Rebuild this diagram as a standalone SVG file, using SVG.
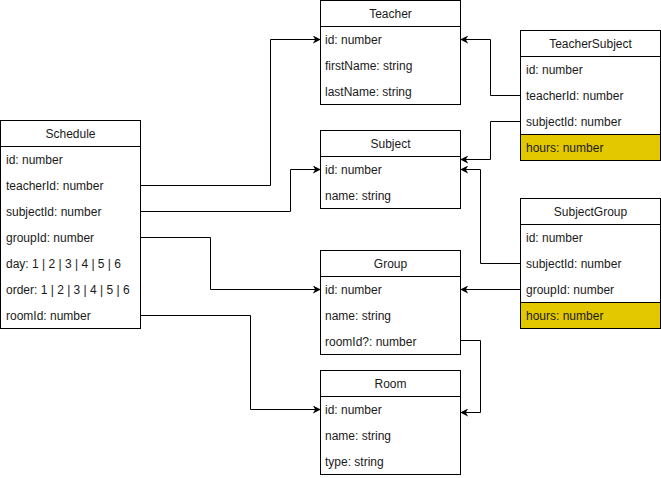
<svg xmlns="http://www.w3.org/2000/svg" width="661" height="478" viewBox="0 0 661 478">
  <style>
    .box { fill: #ffffff; stroke: #000000; stroke-width: 1; }
    .hl { fill: #e3c800; stroke: #000000; stroke-width: 1; }
    .sep { stroke: #000000; stroke-width: 1; }
    .title { font-family: "Liberation Sans", Arial, sans-serif; font-size: 12px; fill: #1a1a1a; text-anchor: middle; }
    .field { font-family: "Liberation Sans", Arial, sans-serif; font-size: 12px; fill: #1a1a1a; }
    .edge { fill: none; stroke: #000000; stroke-width: 1; marker-end: url(#arrow); }
  </style>
  <defs>
    <marker id="arrow" viewBox="0 0 10 10" refX="9" refY="5" markerWidth="8" markerHeight="8" markerUnits="userSpaceOnUse" orient="auto">
      <path d="M0,0 L10,5 L0,10 L3,5 Z" fill="#000000"/>
    </marker>
  </defs>

  <rect x="0" y="0" width="661" height="478" fill="#ffffff"/>

  <!-- connectors -->
  <g id="connectors">
    <path class="edge" d="M140.5,185.5 H270.5 V39.5 H320"/>
    <path class="edge" d="M140.5,211.5 H290.5 V169.5 H320"/>
    <path class="edge" d="M140.5,237.5 H210.5 V289.5 H320"/>
    <path class="edge" d="M140.5,315.5 H250.5 V409.5 H320"/>
    <path class="edge" d="M520.5,95.5 H490.5 V39.5 H461"/>
    <path class="edge" d="M520.5,121.5 H490.5 V159.5 H461"/>
    <path class="edge" d="M520.5,263.5 H480.5 V169.5 H461"/>
    <path class="edge" d="M520.5,289.5 H461"/>
    <path class="edge" d="M458,340.5 H480.5 V412.5 H461"/>
  </g>

  <!-- Schedule -->
  <g id="schedule">
    <rect class="box" x="0.5" y="120.5" width="140" height="208"/>
    <line class="sep" x1="0.5" y1="146.5" x2="140.5" y2="146.5"/>
    <text class="title" x="70.5" y="137.5">Schedule</text>
    <text class="field" x="6" y="163.5">id: number</text>
    <text class="field" x="6" y="189.5">teacherId: number</text>
    <text class="field" x="6" y="215.5">subjectId: number</text>
    <text class="field" x="6" y="241.5">groupId: number</text>
    <text class="field" x="6" y="267.5">day: 1 | 2 | 3 | 4 | 5 | 6</text>
    <text class="field" x="6" y="293.5">order: 1 | 2 | 3 | 4 | 5 | 6</text>
    <text class="field" x="6" y="319.5">roomId: number</text>
  </g>

  <!-- Teacher -->
  <g id="teacher">
    <rect class="box" x="320.5" y="0.5" width="140" height="104"/>
    <line class="sep" x1="320.5" y1="26.5" x2="460.5" y2="26.5"/>
    <text class="title" x="390.5" y="17.5">Teacher</text>
    <text class="field" x="325" y="43.5">id: number</text>
    <text class="field" x="325" y="69.5">firstName: string</text>
    <text class="field" x="325" y="95.5">lastName: string</text>
  </g>

  <!-- Subject -->
  <g id="subject">
    <rect class="box" x="320.5" y="130.5" width="140" height="78"/>
    <line class="sep" x1="320.5" y1="156.5" x2="460.5" y2="156.5"/>
    <text class="title" x="390.5" y="147.5">Subject</text>
    <text class="field" x="325" y="173.5">id: number</text>
    <text class="field" x="325" y="199.5">name: string</text>
  </g>

  <!-- Group -->
  <g id="group">
    <rect class="box" x="320.5" y="250.5" width="140" height="104"/>
    <line class="sep" x1="320.5" y1="276.5" x2="460.5" y2="276.5"/>
    <text class="title" x="390.5" y="267.5">Group</text>
    <text class="field" x="325" y="293.5">id: number</text>
    <text class="field" x="325" y="319.5">name: string</text>
    <text class="field" x="325" y="345.5">roomId?: number</text>
  </g>

  <!-- Room -->
  <g id="room">
    <rect class="box" x="320.5" y="370.5" width="140" height="104"/>
    <line class="sep" x1="320.5" y1="396.5" x2="460.5" y2="396.5"/>
    <text class="title" x="390.5" y="387.5">Room</text>
    <text class="field" x="325" y="413.5">id: number</text>
    <text class="field" x="325" y="439.5">name: string</text>
    <text class="field" x="325" y="465.5">type: string</text>
  </g>

  <!-- TeacherSubject -->
  <g id="teacher-subject">
    <rect class="box" x="520.5" y="30.5" width="140" height="104"/>
    <rect class="hl" x="520.5" y="134.5" width="140" height="26"/>
    <line class="sep" x1="520.5" y1="56.5" x2="660.5" y2="56.5"/>
    <text class="title" x="590.5" y="47.5">TeacherSubject</text>
    <text class="field" x="526" y="73.5">id: number</text>
    <text class="field" x="526" y="99.5">teacherId: number</text>
    <text class="field" x="526" y="125.5">subjectId: number</text>
    <text class="field" x="526" y="151.5">hours: number</text>
  </g>

  <!-- SubjectGroup -->
  <g id="subject-group">
    <rect class="box" x="520.5" y="198.5" width="140" height="104"/>
    <rect class="hl" x="520.5" y="302.5" width="140" height="26"/>
    <line class="sep" x1="520.5" y1="224.5" x2="660.5" y2="224.5"/>
    <text class="title" x="590.5" y="215.5">SubjectGroup</text>
    <text class="field" x="526" y="241.5">id: number</text>
    <text class="field" x="526" y="267.5">subjectId: number</text>
    <text class="field" x="526" y="293.5">groupId: number</text>
    <text class="field" x="526" y="319.5">hours: number</text>
  </g>
</svg>
